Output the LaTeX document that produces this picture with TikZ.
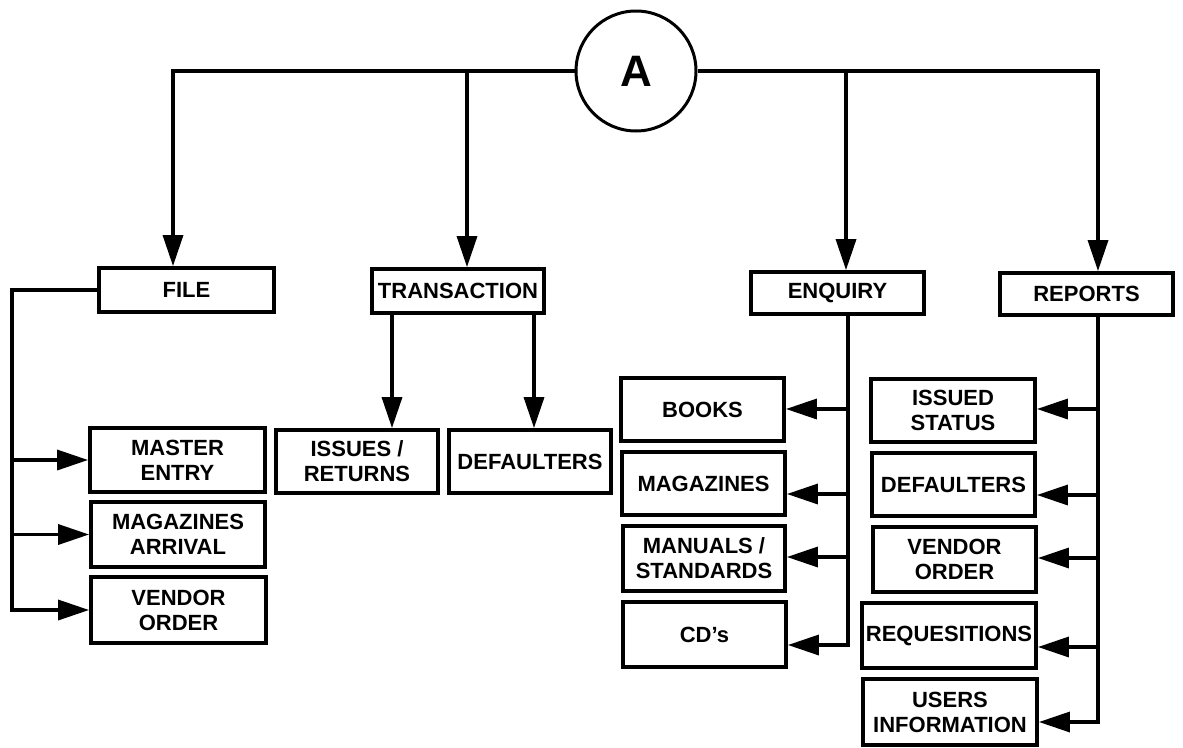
\documentclass[tikz,border=0pt]{standalone}
\usepackage{fontspec}
\setmainfont{Liberation Sans}
\usetikzlibrary{arrows.meta}
\begin{document}
\begin{tikzpicture}[x=1pt,y=-1pt,
  box/.style={draw, line width=3.8pt, inner sep=0pt, align=center,
              font=\bfseries\fontsize{22}{25}\selectfont},
  link/.style={line width=3.4pt},
  arr/.style={link, -{Triangle[length=31pt,width=20pt]}}]

% page frame
\fill[white] (0,0) rectangle (1183,747);
\useasboundingbox (0,0) rectangle (1183,747);

% root
\node[draw, circle, line width=3pt, minimum size=120pt, inner sep=0pt,
      font=\bfseries\fontsize{44}{44}\selectfont] (A) at (636,71) {A};

% first level
\node[box, minimum width=175pt, minimum height=44pt] (file)  at (186.5,290) {FILE};
\node[box, minimum width=172pt, minimum height=44pt] (trans) at (458,291)   {TRANSACTION};
\node[box, minimum width=173pt, minimum height=42pt] (enq)   at (837.5,293) {ENQUIRY};
\node[box, minimum width=173pt, minimum height=42pt] (rep)   at (1086.5,294) {REPORTS};

% file group
\node[box, minimum width=175pt, minimum height=64pt] (me) at (177.5,460) {MASTER\\ENTRY};
\node[box, minimum width=174pt, minimum height=65pt] (ma) at (178,534.5) {MAGAZINES\\ARRIVAL};
\node[box, minimum width=175pt, minimum height=66pt] (vo) at (178.5,610) {VENDOR\\ORDER};

% transaction group
\node[box, minimum width=162pt, minimum height=63pt] (iss) at (357,461.5) {ISSUES /\\RETURNS};
\node[box, minimum width=162pt, minimum height=63pt] (def) at (530,461.5) {DEFAULTERS};

% enquiry group
\node[box, minimum width=163pt, minimum height=63pt] (books) at (702.5,409.5) {BOOKS};
\node[box, minimum width=163pt, minimum height=63pt] (mags)  at (703.5,483.5) {MAGAZINES};
\node[box, minimum width=162pt, minimum height=65pt] (man)   at (704,558.5)   {MANUALS /\\STANDARDS};
\node[box, minimum width=163pt, minimum height=65pt] (cd)    at (704.5,634.5) {CD’s};

% reports group
\node[box, minimum width=164pt, minimum height=63pt] (ist)  at (953,410.5)   {ISSUED\\STATUS};
\node[box, minimum width=163pt, minimum height=63pt] (rdef) at (953.5,484.5) {DEFAULTERS};
\node[box, minimum width=163pt, minimum height=65pt] (rvo)  at (954.5,559.5) {VENDOR\\ORDER};
\node[box, minimum width=174pt, minimum height=65pt] (req)  at (949,635.5)   {REQUESITIONS};
\node[box, minimum width=174pt, minimum height=66pt] (usr)  at (950,712)     {USERS\\INFORMATION};

% branch points on the top bus
\coordinate (jf) at (173,71);
\coordinate (jt) at (467,71);
\coordinate (je) at (846,71);
\coordinate (jr) at (1098,71);

\draw[arr] (A.west) -- (jf) -- (jf |- file.north);
\draw[arr] (jt) -- (jt |- trans.north);
\draw[arr] (A.east) -- (jr) -- (jr |- rep.north);
\draw[arr] (je) -- (je |- enq.north);

% file spine
\coordinate (fs) at (12,0);
\draw[arr] (file.west) -| (fs |- vo.west) -- (vo.west);
\draw[arr] (fs |- me.west) -- (me.west);
\draw[arr] (fs |- ma.west) -- (ma.west);

% transaction drops
\coordinate (t1) at (392,0);
\coordinate (t2) at (534,0);
\draw[arr] (t1 |- trans.south) -- (t1 |- iss.north);
\draw[arr] (t2 |- trans.south) -- (t2 |- def.north);

% enquiry spine
\coordinate (eb) at (848,409);
\coordinate (em) at (848,494);
\coordinate (en) at (848,557);
\coordinate (ec) at (848,645);
\draw[arr] (ec |- enq.south) -- (ec) -- (ec -| cd.east);
\draw[arr] (eb) -- (eb -| books.east);
\draw[arr] (em) -- (em -| mags.east);
\draw[arr] (en) -- (en -| man.east);

% reports spine
\coordinate (ri) at (1098,409);
\coordinate (rd) at (1098,495);
\coordinate (rv) at (1098,558);
\coordinate (rq) at (1098,647);
\coordinate (ru) at (1098,722);
\draw[arr] (ru |- rep.south) -- (ru) -- (ru -| usr.east);
\draw[arr] (ri) -- (ri -| ist.east);
\draw[arr] (rd) -- (rd -| rdef.east);
\draw[arr] (rv) -- (rv -| rvo.east);
\draw[arr] (rq) -- (rq -| req.east);

\end{tikzpicture}
\end{document}
